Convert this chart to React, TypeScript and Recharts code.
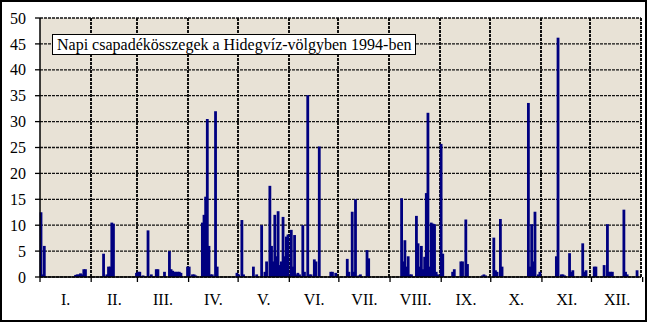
import { BarChart, Bar, XAxis, YAxis, CartesianGrid } from 'recharts';

// daily precipitation (mm), one array per month
const jan = [12.5, 0.5, 6, 0, 0, 0, 0, 0, 0, 0, 0, 0, 0, 0, 0, 0, 0, 0, 0, 0, 0, 0.4, 0.5, 0.5, 0.7, 0.5, 1.5, 1.5, 0, 0, 0];
const feb = [0, 0, 0, 0, 0, 0, 0, 4.5, 0, 0.5, 2, 2, 10.5, 10.3, 0, 0, 0, 0, 0, 0, 0, 0, 0, 0, 0, 0, 0, 0.8];
const mar = [1, 1, 0, 0.3, 0, 0, 9, 0, 0.5, 0, 0, 1.5, 1.5, 0, 0, 0, 1, 0, 0, 5, 1.5, 1.2, 1, 1, 1, 1, 0.8, 0, 0, 0, 2];
const apr = [2, 0, 0.5, 0.5, 0.3, 0, 0, 0, 10.5, 12, 15.5, 30.5, 6, 0.5, 0.5, 0, 32, 2, 0, 0, 0, 0, 0, 0, 0, 0, 0, 0, 0, 0.8];
const may = [0.5, 0, 11, 0.5, 0, 0, 0, 0, 0, 2, 0, 0.5, 0, 0, 10, 0, 1, 3, 0, 17.6, 6, 3, 12, 4, 12.7, 2.3, 3, 11.6, 4, 7.8, 8.2];
const jun = [0, 9.1, 2, 8.1, 0.5, 0.8, 0.5, 0, 10, 1, 0, 35.1, 0.5, 0.5, 0, 3.4, 3, 0, 25.2, 0, 0, 0, 0, 0, 0, 1, 1, 0, 0.8, 0];
const jul = [0, 0, 0, 0, 0, 3.5, 1, 0, 12.6, 1, 15, 0, 0.3, 0.5, 0, 0, 0, 5.2, 3.6, 0, 0, 0, 0, 0, 0, 0, 0, 0, 0, 0, 0];
const aug = [0, 0, 0, 0, 0, 0, 0, 15.2, 3, 7.1, 2, 4, 0.5, 0.5, 0, 0, 11.8, 6.5, 2, 6, 1.5, 3.9, 16.2, 31.7, 2, 10.5, 10.3, 10.2, 1, 0.5, 0];
const sep = [25.7, 4.5, 0, 0, 0, 0, 0, 1, 1.5, 0, 0, 0, 3, 3, 0, 11.1, 2.5, 0, 0, 0, 0, 0, 0, 0, 0, 0.3, 0.5, 0.3, 0, 0];
const oct = [0, 0, 7.6, 1.3, 1, 0, 11.2, 2, 0, 0, 0, 0, 0, 0, 0, 0, 0, 0, 0, 0, 0, 0, 0, 33.6, 2, 10.2, 3, 12.6, 0, 0.5, 1];
const nov = [0, 0, 0, 0, 0, 0, 0, 0, 0, 4, 46.2, 0, 0.5, 0.5, 0.3, 0, 0, 4.6, 1, 1.3, 0, 0, 0, 0, 0, 6.5, 1, 1.3, 0, 0];
const dec = [0, 0, 2, 2, 0, 0, 0, 0, 2.3, 0, 10.2, 1, 1, 1, 0, 0, 0, 0, 0, 0, 13, 1, 0.5, 0, 0, 0, 0, 0, 1.3, 0, 0];

const monthLabels = ['I.', 'II.', 'III.', 'IV.', 'V.', 'VI.', 'VII.', 'VIII.', 'IX.', 'X.', 'XI.', 'XII.'];
const yTicks = [0, 5, 10, 15, 20, 25, 30, 35, 40, 45, 50];
const title = 'Napi csapadékösszegek a Hidegvíz-völgyben 1994-ben';

const months = [jan, feb, mar, apr, may, jun, jul, aug, sep, oct, nov, dec];
const monthStarts = months.reduce<number[]>((acc, m) => [...acc, acc[acc.length - 1] + m.length], [0]);
const monthMids = months.map((m, i) => monthStarts[i] + m.length / 2);
const totalDays = monthStarts[monthStarts.length - 1];

const data = months.flat().map((v, i) => ({ day: i + 1, rain: v }));

const W = 647;
const H = 322;
const MARGIN = { top: 18, right: 6, bottom: 17, left: 10 };
const Y_AXIS_W = 30;
const EDGE_AXIS_H = 6;
const NAME_AXIS_H = 22;
const PLOT_H = H - MARGIN.top - MARGIN.bottom - EDGE_AXIS_H - NAME_AXIS_H;
const PLOT_LEFT = MARGIN.left + Y_AXIS_W;
const PLOT_W = W - PLOT_LEFT - MARGIN.right;
const BAR_W = 2.8;
const font = '"Liberation Serif", "Times New Roman", serif';
const tickFont = { fill: '#000', fontSize: 16, fontFamily: font, style: { fontFamily: font } };
const gridLine = { stroke: '#111', strokeDasharray: '3 1', strokeWidth: 1.3 };

// month boundaries in pixels across the plot area (same mapping as the "edges" axis)
const monthEdgesPx = monthStarts.slice(1).map((d) => PLOT_LEFT + (d * PLOT_W) / totalDays);

// daily bars look thicker than one day's slot in the original, so widen them around the slot centre
const DayBar = (props: any) => {
  const { x, y, width, height, fill } = props;
  if (!height || height <= 0) return null;
  return <rect x={x + width / 2 - BAR_W / 2} y={y} width={BAR_W} height={height} fill={fill} />;
};

// short tick below the axis at each month boundary
const EdgeTick = (props: any) => {
  const { x, y } = props;
  return <line x1={x} x2={x} y1={y} y2={y + 5} stroke="#000" strokeWidth={1.3} />;
};

export default function App() {
  return (
    <div style={{ position: 'absolute', left: 0, top: 0, width: W, height: H, background: '#fff', fontFamily: font }}>
      {/* plot background */}
      <div
        style={{
          position: 'absolute',
          left: PLOT_LEFT,
          top: MARGIN.top,
          width: PLOT_W,
          height: PLOT_H,
          background: '#e8e2d6',
        }}
      />
      {/* vertical month grid lines, dashed */}
      {monthEdgesPx.map((px) => (
        <div
          key={px}
          style={{
            position: 'absolute',
            left: Math.round(px) - 1,
            top: MARGIN.top,
            width: 2,
            height: PLOT_H,
            background: 'repeating-linear-gradient(to bottom, #111 0px, #111 3px, transparent 3px, transparent 4px)',
          }}
        />
      ))}
      <BarChart width={W} height={H} data={data} margin={MARGIN} barCategoryGap={0} barGap={0}>
        <CartesianGrid {...gridLine} vertical={false} />
        <XAxis dataKey="day" hide height={0} />
        <XAxis
          xAxisId="edges"
          type="number"
          domain={[0, totalDays]}
          allowDataOverflow
          ticks={monthStarts}
          interval={0}
          height={EDGE_AXIS_H}
          tickSize={0}
          tickMargin={0}
          tickLine={false}
          tick={EdgeTick}
          axisLine={{ stroke: '#000', strokeWidth: 1.5 }}
        />
        <XAxis
          xAxisId="names"
          type="number"
          domain={[0, totalDays]}
          allowDataOverflow
          ticks={monthMids}
          interval={0}
          height={NAME_AXIS_H}
          tickSize={0}
          tickMargin={11}
          axisLine={false}
          tickLine={false}
          tickFormatter={(v: number) => monthLabels[monthMids.indexOf(v)]}
          tick={tickFont}
        />
        <YAxis
          domain={[0, 50]}
          ticks={yTicks}
          interval={0}
          width={Y_AXIS_W}
          tickSize={5}
          tickMargin={9}
          axisLine={{ stroke: '#000', strokeWidth: 1.5 }}
          tickLine={{ stroke: '#000', strokeWidth: 1.3 }}
          tick={tickFont}
        />
        <Bar dataKey="rain" fill="#000080" shape={DayBar} isAnimationActive={false} />
      </BarChart>

      {/* title box */}
      <div
        style={{
          position: 'absolute',
          left: 52,
          top: 34,
          width: 364,
          height: 21,
          boxSizing: 'border-box',
          border: '1px solid #000',
          background: '#fff',
          fontSize: 16,
          lineHeight: '19px',
          paddingLeft: 4,
          whiteSpace: 'nowrap',
          color: '#000',
        }}
      >
        {title}
      </div>

      {/* outer frame */}
      <div
        style={{
          position: 'absolute',
          left: 0,
          top: 0,
          width: W,
          height: H,
          boxSizing: 'border-box',
          border: '2px solid #000',
          pointerEvents: 'none',
        }}
      />
    </div>
  );
}
